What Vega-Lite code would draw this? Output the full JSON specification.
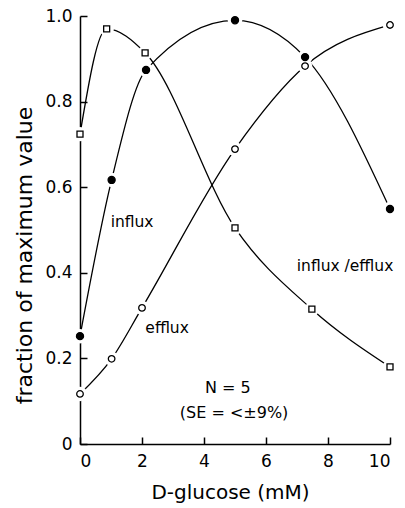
{
  "$schema": "https://vega.github.io/schema/vega-lite/v6.json",
  "width": 310,
  "height": 428,
  "autosize": {"type": "none"},
  "padding": {"left": 80, "top": 16, "right": 15, "bottom": 64},
  "background": "white",
  "config": {
    "view": {"stroke": null},
    "axis": {
      "grid": false,
      "domainColor": "black",
      "domainWidth": 1.5,
      "tickColor": "black",
      "tickWidth": 1.5,
      "tickSize": -7,
      "labelFont": "DejaVu Sans",
      "labelFontSize": 17,
      "labelColor": "black",
      "titleFont": "DejaVu Sans",
      "titleFontWeight": "normal",
      "titleColor": "black"
    },
    "text": {"font": "DejaVu Sans", "color": "black"}
  },
  "datasets": {
    "curves": [
      {"series": "influx", "x": 0, "y": 0.252},
      {"series": "influx", "x": 1.02, "y": 0.617},
      {"series": "influx", "x": 2.13, "y": 0.874},
      {"series": "influx", "x": 5, "y": 0.99},
      {"series": "influx", "x": 7.26, "y": 0.904},
      {"series": "influx", "x": 10, "y": 0.549},
      {"series": "efflux", "x": 0, "y": 0.117},
      {"series": "efflux", "x": 1.02, "y": 0.199},
      {"series": "efflux", "x": 2, "y": 0.318},
      {"series": "efflux", "x": 5, "y": 0.689},
      {"series": "efflux", "x": 7.26, "y": 0.883},
      {"series": "efflux", "x": 10, "y": 0.979},
      {"series": "influx/efflux", "x": 0, "y": 0.724},
      {"series": "influx/efflux", "x": 0.86, "y": 0.97},
      {"series": "influx/efflux", "x": 2.1, "y": 0.914},
      {"series": "influx/efflux", "x": 5, "y": 0.505},
      {"series": "influx/efflux", "x": 7.48, "y": 0.315},
      {"series": "influx/efflux", "x": 10, "y": 0.18}
    ],
    "curveLabels": [
      {"label": "influx", "x": 1.68, "y": 0.519},
      {"label": "efflux", "x": 2.81, "y": 0.271},
      {"label": "influx /efflux", "x": 8.55, "y": 0.416}
    ],
    "notes": [
      {"label": "N = 5", "x": 4.77, "y": 0.131},
      {"label": "(SE = <±9%)", "x": 4.97, "y": 0.072}
    ]
  },
  "layer": [
    {
      "data": {"name": "curves"},
      "mark": {"type": "line", "interpolate": "monotone", "color": "black", "strokeWidth": 1.3},
      "encoding": {
        "x": {
          "field": "x", "type": "quantitative",
          "scale": {"domain": [0, 10], "nice": false, "zero": false},
          "axis": {
            "values": [0, 2, 4, 6, 8, 10],
            "format": "d",
            "labelPadding": 16,
            "title": "D-glucose (mM)",
            "titleFontSize": 20,
            "titleX": 150,
            "titleY": 48,
            "titleBaseline": "middle",
            "titleAlign": "center"
          }
        },
        "y": {
          "field": "y", "type": "quantitative",
          "scale": {"domain": [0, 1], "nice": false},
          "axis": {
            "values": [0, 0.2, 0.4, 0.6, 0.8, 1.0],
            "labelExpr": "datum.value == 0 ? '0' : format(datum.value, '.1f')",
            "labelPadding": 15,
            "title": "fraction of maximum value",
            "titleFontSize": 22,
            "titleAngle": -90,
            "titleX": -56,
            "titleY": 239,
            "titleBaseline": "middle",
            "titleAlign": "center"
          }
        },
        "detail": {"field": "series"}
      }
    },
    {
      "data": {"name": "curves"},
      "mark": {"type": "point", "shape": "circle", "filled": true, "color": "white", "opacity": 1, "size": 210, "strokeWidth": 0},
      "encoding": {
        "x": {"field": "x", "type": "quantitative"},
        "y": {"field": "y", "type": "quantitative"}
      }
    },
    {
      "data": {"name": "curves"},
      "mark": {"type": "point", "filled": true, "stroke": "black", "strokeWidth": 1.3, "opacity": 1},
      "encoding": {
        "x": {"field": "x", "type": "quantitative"},
        "y": {"field": "y", "type": "quantitative"},
        "shape": {"field": "series", "type": "nominal", "scale": {"domain": ["influx", "efflux", "influx/efflux"], "range": ["circle", "circle", "square"]}, "legend": null},
        "fill": {"field": "series", "type": "nominal", "scale": {"domain": ["influx", "efflux", "influx/efflux"], "range": ["black", "white", "white"]}, "legend": null},
        "size": {"field": "series", "type": "nominal", "scale": {"domain": ["influx", "efflux", "influx/efflux"], "range": [50, 36, 50]}, "legend": null}
      }
    },
    {
      "data": {"name": "curveLabels"},
      "mark": {"type": "text", "fontSize": 15.5, "align": "center", "baseline": "middle"},
      "encoding": {
        "x": {"field": "x", "type": "quantitative"},
        "y": {"field": "y", "type": "quantitative"},
        "text": {"field": "label"}
      }
    },
    {
      "data": {"name": "notes"},
      "mark": {"type": "text", "fontSize": 16, "align": "center", "baseline": "middle"},
      "encoding": {
        "x": {"field": "x", "type": "quantitative"},
        "y": {"field": "y", "type": "quantitative"},
        "text": {"field": "label"}
      }
    }
  ]
}
